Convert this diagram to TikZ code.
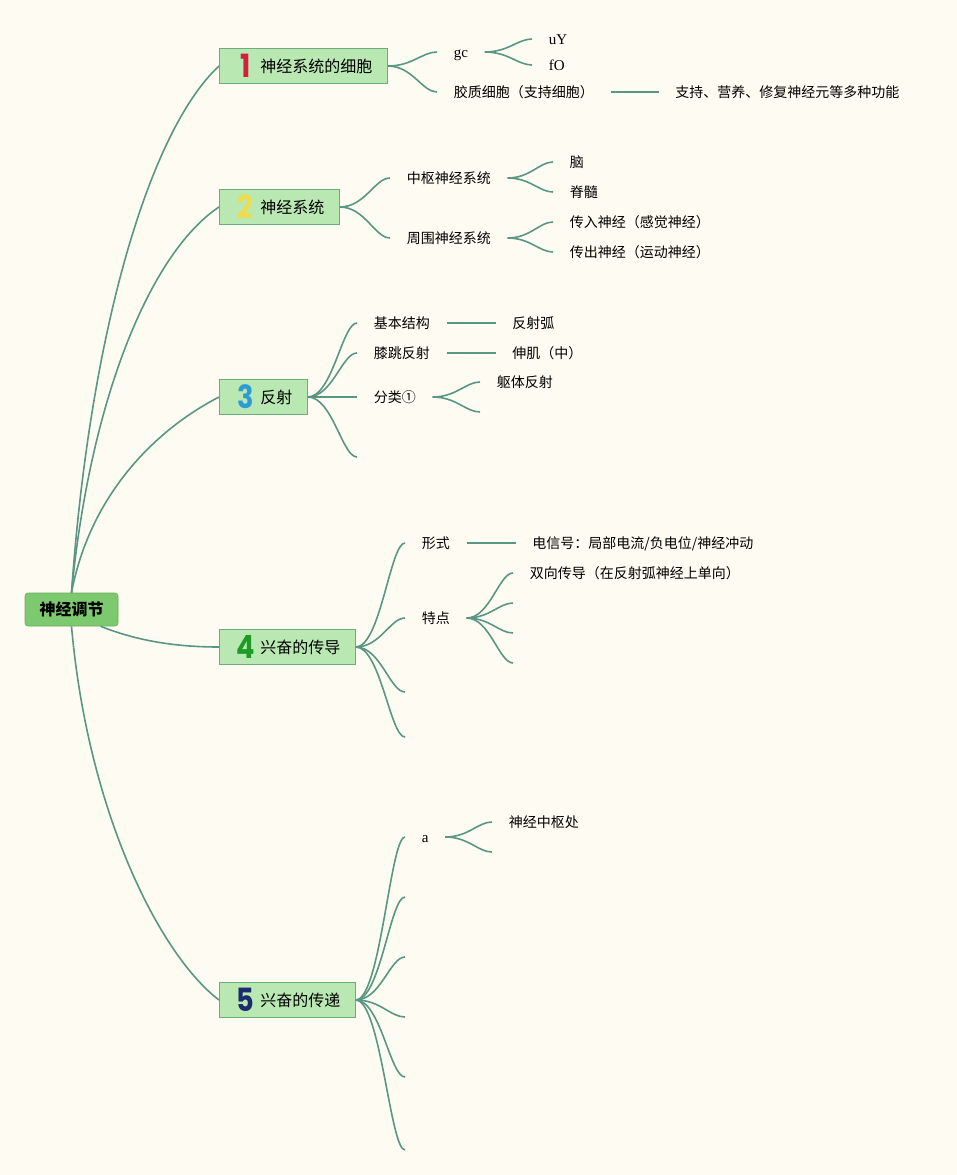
\documentclass[tikz,border=0pt]{standalone}
\usepackage{fontspec}
\setmainfont{Noto Sans CJK SC}
\newfontfamily\latin{Liberation Serif}
\newfontfamily\numfont{Poppins}[FakeStretch=0.85]
\usetikzlibrary{positioning,calc}

\definecolor{paper}{HTML}{FEFCF2}
\definecolor{linkteal}{HTML}{5A9684}
\definecolor{rootgreen}{HTML}{7DC96F}
\definecolor{topicgreen}{HTML}{BAE8B2}
\definecolor{topicline}{HTML}{6FAA80}
\definecolor{numA}{HTML}{D42039}
\definecolor{numB}{HTML}{F0DA4E}
\definecolor{numC}{HTML}{2E9BD6}
\definecolor{numD}{HTML}{1E9A28}
\definecolor{numE}{HTML}{1B2B6E}

\newcommand{\topicnum}[2]{\hspace{3pt}\makebox[16pt]{\smash{\raisebox{-5pt}{\numfont\bfseries\fontsize{32}{32}\selectfont\color{#1}#2}}}\hspace{7pt}}

\begin{document}
\begin{tikzpicture}[x=1pt,y=1pt,line width=1.6pt]

	\tikzstyle{root}=[
		rectangle,
		rounded corners=3pt,
		fill=rootgreen,
		draw=rootgreen!85!black,
		line width=0.6pt,
		minimum width=93pt,
		minimum height=33pt,
		font=\fontsize{16}{16}\selectfont\bfseries
	]
	\tikzstyle{topic}=[
		rectangle,
		fill=topicgreen,
		draw=topicline,
		line width=0.8pt,
		minimum height=35pt,
		inner xsep=15pt,
		inner ysep=0pt,
		text height=13pt,
		text depth=1pt,
		anchor=west,
		font=\fontsize{16}{16}\selectfont
	]
	\tikzstyle{leaf}=[
		inner xsep=16pt,
		inner ysep=2pt,
		text height=12pt,
		text depth=2pt,
		anchor=west,
		font=\fontsize{14}{14}\selectfont
	]
	\tikzstyle{link}=[draw=linkteal]
	\tikzstyle{branch}=[
		draw=linkteal,
		to path={let \p1=(\tikztostart), \p2=(\tikztotarget) in
			.. controls ({\x1+0.5*(\x2-\x1)},\y1) and ({\x1+0.7*(\x2-\x1)},\y2) .. (\tikztotarget)}
	]

	\fill [paper] (0,0) rectangle (957,-1175);
	\useasboundingbox (0,0) rectangle (957,-1175);

	\node [root] (R) at (71.5,-609.5) {神经调节};

	\node [topic] (A) at (219,-66) {\topicnum{numA}{1}神经系统的细胞};
	\node [topic] (B) at (219,-207) {\topicnum{numB}{2}神经系统};
	\node [topic] (C) at (219,-397) {\topicnum{numC}{3}反射};
	\node [topic] (D) at (219,-647) {\topicnum{numD}{4}兴奋的传导};
	\node [topic] (E) at (219,-1000) {\topicnum{numE}{5}兴奋的传递};

	% 1
	\node [leaf, font=\latin\fontsize{15}{15}\selectfont] (A1) at (437,-52) {gc};
	\node [leaf, font=\latin\fontsize{15}{15}\selectfont] (A11) at (532,-39) {uY};
	\node [leaf, font=\latin\fontsize{15}{15}\selectfont] (A12) at (532,-65) {fO};
	\node [leaf] (A2) at (437,-92) {胶质细胞（支持细胞）};
	\node [leaf] (A21) [right=48pt of A2] {支持、营养、修复神经元等多种功能};

	% 2
	\node [leaf] (B1) at (390,-178) {中枢神经系统};
	\node [leaf] (B11) at (553,-162) {脑};
	\node [leaf] (B12) at (553,-192) {脊髓};
	\node [leaf] (B2) at (390,-238) {周围神经系统};
	\node [leaf] (B21) at (553,-222) {传入神经（感觉神经）};
	\node [leaf] (B22) at (553,-252) {传出神经（运动神经）};

	% 3
	\node [leaf] (C1) at (357,-323) {基本结构};
	\node [leaf] (C11) [right=49pt of C1] {反射弧};
	\node [leaf] (C2) at (357,-353) {膝跳反射};
	\node [leaf] (C21) [right=49pt of C2] {伸肌（中）};
	\node [leaf] (C3) at (357,-397) {分类①};
	\node [leaf] (C31) at (480,-382) {躯体反射};
	\coordinate (C32) at (480,-412);
	\coordinate (C4) at (357,-457);

	% 4
	\node [leaf] (D1) at (405,-543) {形式};
	\node [leaf] (D11) [right=49pt of D1] {电信号：局部电流/负电位/神经冲动};
	\node [leaf] (D2) at (405,-618) {特点};
	\node [leaf] (D21) at (513,-573) {双向传导（在反射弧神经上单向）};
	\coordinate (D22) at (513,-603);
	\coordinate (D23) at (513,-633);
	\coordinate (D24) at (513,-663);
	\coordinate (D3) at (405,-692);
	\coordinate (D4) at (405,-737);

	% 5
	\node [leaf, font=\latin\fontsize{15}{15}\selectfont] (E1) at (405,-837) {a};
	\node [leaf] (E11) at (492,-822) {神经中枢处};
	\coordinate (E12) at (492,-852);
	\coordinate (E2) at (405,-897);
	\coordinate (E3) at (405,-957);
	\coordinate (E4) at (405,-1017);
	\coordinate (E5) at (405,-1077);
	\coordinate (E6) at (405,-1150);

	\draw [link] (R.north) .. controls (90,-330) and (150,-130) .. (A.west);
	\draw [link] (R.north) .. controls (90,-400) and (150,-253) .. (B.west);
	\draw [link] (R.north) .. controls (90,-495) and (155,-430) .. (C.west);
	\draw [link] (R.-30) .. controls (140,-642) and (180,-647) .. (D.west);
	\draw [link] (R.south) .. controls (88,-813) and (160,-955) .. (E.west);

	\draw [branch] (A.east) to (A1.west);
	\draw [branch] (A.east) to (A2.west);
	\draw [branch] (A1.east) to (A11.west);
	\draw [branch] (A1.east) to (A12.west);
	\draw [branch] (A2.east) to (A21.west);

	\draw [branch] (B.east) to (B1.west);
	\draw [branch] (B.east) to (B2.west);
	\draw [branch] (B1.east) to (B11.west);
	\draw [branch] (B1.east) to (B12.west);
	\draw [branch] (B2.east) to (B21.west);
	\draw [branch] (B2.east) to (B22.west);

	\draw [branch] (C.east) to (C1.west);
	\draw [branch] (C.east) to (C2.west);
	\draw [branch] (C.east) to (C3.west);
	\draw [branch] (C.east) to (C4);
	\draw [branch] (C1.east) to (C11.west);
	\draw [branch] (C2.east) to (C21.west);
	\draw [branch] (C3.east) to (C31.west);
	\draw [branch] (C3.east) to (C32);

	\draw [branch] (D.east) to (D1.west);
	\draw [branch] (D.east) to (D2.west);
	\draw [branch] (D.east) to (D3);
	\draw [branch] (D.east) to (D4);
	\draw [branch] (D1.east) to (D11.west);
	\draw [branch] (D2.east) to (D21.west);
	\draw [branch] (D2.east) to (D22);
	\draw [branch] (D2.east) to (D23);
	\draw [branch] (D2.east) to (D24);

	\draw [branch] (E.east) to (E1.west);
	\draw [branch] (E.east) to (E2);
	\draw [branch] (E.east) to (E3);
	\draw [branch] (E.east) to (E4);
	\draw [branch] (E.east) to (E5);
	\draw [branch] (E.east) to (E6);
	\draw [branch] (E1.east) to (E11.west);
	\draw [branch] (E1.east) to (E12);

\end{tikzpicture}
\end{document}
